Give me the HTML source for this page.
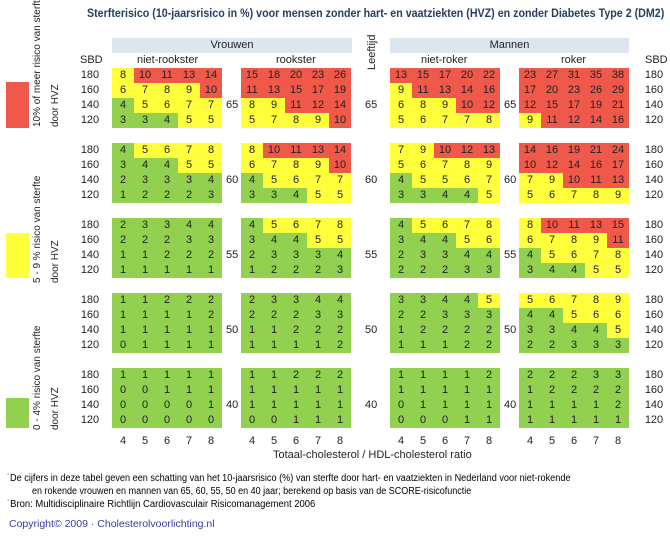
<!DOCTYPE html>
<html><head><meta charset="utf-8"><style>
body{margin:0;width:670px;height:537px;background:#fff;position:relative;overflow:hidden;font-family:"Liberation Sans",sans-serif;color:#222}
.a{position:absolute;white-space:nowrap}
table{position:absolute;border-collapse:collapse;border-spacing:0}
td{width:22px;height:15px;padding:0;text-align:center;font-size:11px;line-height:15px}
.g{background:#92d050}.y{background:#ffff3c}.r{background:#f0584a}
.lab td{width:30px}
.hd{position:absolute;background:#dce6f1;height:15px;font-size:11px;text-align:center;line-height:15px}
.rot{position:absolute;transform:rotate(-90deg);transform-origin:0 0;font-size:11px;white-space:nowrap}
.sc{transform-origin:0 0}
</style></head><body>
<div class="a sc" style="left:87px;top:6px;font-size:12px;font-weight:bold;color:#243f60;transform:scaleX(0.89)">Sterfterisico (10-jaarsrisico in %) voor mensen zonder hart- en vaatziekten (HVZ) en zonder Diabetes Type 2 (DM2)</div>
<div class="hd" style="left:112px;top:38px;width:240px">Vrouwen</div>
<div class="hd" style="left:390px;top:38px;width:239px">Mannen</div>
<div class="rot" style="left:366px;top:70px">Leeftijd</div>
<div class="a" style="left:80px;top:54px;font-size:11px">SBD</div>
<div class="a" style="left:645px;top:54px;font-size:11px">SBD</div>
<div class="a" style="left:137px;top:54px;font-size:11px">niet-rookster</div>
<div class="a" style="left:276px;top:54px;font-size:11px">rookster</div>
<div class="a" style="left:421px;top:54px;font-size:11px">niet-roker</div>
<div class="a" style="left:561px;top:54px;font-size:11px">roker</div>

<div class="a" style="left:6px;top:82px;width:23px;height:46px;background:#f0584a"></div>
<div class="a" style="left:6px;top:233px;width:23px;height:45px;background:#ffff3c"></div>
<div class="a" style="left:6px;top:398px;width:23px;height:30px;background:#92d050"></div>
<div class="rot" style="left:32px;top:127px;font-size:10px">10% of meer risico van sterfte</div>
<div class="rot" style="left:50px;top:127px;font-size:10px">door HVZ</div>
<div class="rot" style="left:32px;top:283px;font-size:10px">5 - 9 % risico van sterfte</div>
<div class="rot" style="left:50px;top:283px;font-size:10px">door HVZ</div>
<div class="rot" style="left:32px;top:430px;font-size:10px">0 - 4% risico van sterfte</div>
<div class="rot" style="left:50px;top:430px;font-size:10px">door HVZ</div>

<table class="lab" style="left:75px;top:68px"><tr><td>180</td></tr><tr><td>160</td></tr><tr><td>140</td></tr><tr><td>120</td></tr></table>
<table class="lab" style="left:75px;top:143px"><tr><td>180</td></tr><tr><td>160</td></tr><tr><td>140</td></tr><tr><td>120</td></tr></table>
<table class="lab" style="left:75px;top:218px"><tr><td>180</td></tr><tr><td>160</td></tr><tr><td>140</td></tr><tr><td>120</td></tr></table>
<table class="lab" style="left:75px;top:293px"><tr><td>180</td></tr><tr><td>160</td></tr><tr><td>140</td></tr><tr><td>120</td></tr></table>
<table class="lab" style="left:75px;top:368px"><tr><td>180</td></tr><tr><td>160</td></tr><tr><td>140</td></tr><tr><td>120</td></tr></table>
<table class="lab" style="left:639px;top:68px"><tr><td>180</td></tr><tr><td>160</td></tr><tr><td>140</td></tr><tr><td>120</td></tr></table>
<table class="lab" style="left:639px;top:143px"><tr><td>180</td></tr><tr><td>160</td></tr><tr><td>140</td></tr><tr><td>120</td></tr></table>
<table class="lab" style="left:639px;top:218px"><tr><td>180</td></tr><tr><td>160</td></tr><tr><td>140</td></tr><tr><td>120</td></tr></table>
<table class="lab" style="left:639px;top:293px"><tr><td>180</td></tr><tr><td>160</td></tr><tr><td>140</td></tr><tr><td>120</td></tr></table>
<table class="lab" style="left:639px;top:368px"><tr><td>180</td></tr><tr><td>160</td></tr><tr><td>140</td></tr><tr><td>120</td></tr></table>

<div class="a" style="left:226px;top:99px;font-size:11px">65</div>
<div class="a" style="left:365px;top:99px;font-size:11px">65</div>
<div class="a" style="left:504px;top:99px;font-size:11px">65</div>
<div class="a" style="left:226px;top:174px;font-size:11px">60</div>
<div class="a" style="left:365px;top:174px;font-size:11px">60</div>
<div class="a" style="left:504px;top:174px;font-size:11px">60</div>
<div class="a" style="left:226px;top:249px;font-size:11px">55</div>
<div class="a" style="left:365px;top:249px;font-size:11px">55</div>
<div class="a" style="left:504px;top:249px;font-size:11px">55</div>
<div class="a" style="left:226px;top:324px;font-size:11px">50</div>
<div class="a" style="left:365px;top:324px;font-size:11px">50</div>
<div class="a" style="left:504px;top:324px;font-size:11px">50</div>
<div class="a" style="left:226px;top:399px;font-size:11px">40</div>
<div class="a" style="left:365px;top:399px;font-size:11px">40</div>
<div class="a" style="left:504px;top:399px;font-size:11px">40</div>

<table style="left:112px;top:68px">
<tr><td class="y">8</td><td class="r">10</td><td class="r">11</td><td class="r">13</td><td class="r">14</td></tr>
<tr><td class="y">6</td><td class="y">7</td><td class="y">8</td><td class="y">9</td><td class="r">10</td></tr>
<tr><td class="g">4</td><td class="y">5</td><td class="y">6</td><td class="y">7</td><td class="y">7</td></tr>
<tr><td class="g">3</td><td class="g">3</td><td class="g">4</td><td class="y">5</td><td class="y">5</td></tr></table>
<table style="left:112px;top:143px">
<tr><td class="g">4</td><td class="y">5</td><td class="y">6</td><td class="y">7</td><td class="y">8</td></tr>
<tr><td class="g">3</td><td class="g">4</td><td class="g">4</td><td class="y">5</td><td class="y">5</td></tr>
<tr><td class="g">2</td><td class="g">3</td><td class="g">3</td><td class="g">3</td><td class="g">4</td></tr>
<tr><td class="g">1</td><td class="g">2</td><td class="g">2</td><td class="g">2</td><td class="g">3</td></tr></table>
<table style="left:112px;top:218px">
<tr><td class="g">2</td><td class="g">3</td><td class="g">3</td><td class="g">4</td><td class="g">4</td></tr>
<tr><td class="g">2</td><td class="g">2</td><td class="g">2</td><td class="g">3</td><td class="g">3</td></tr>
<tr><td class="g">1</td><td class="g">1</td><td class="g">2</td><td class="g">2</td><td class="g">2</td></tr>
<tr><td class="g">1</td><td class="g">1</td><td class="g">1</td><td class="g">1</td><td class="g">1</td></tr></table>
<table style="left:112px;top:293px">
<tr><td class="g">1</td><td class="g">1</td><td class="g">2</td><td class="g">2</td><td class="g">2</td></tr>
<tr><td class="g">1</td><td class="g">1</td><td class="g">1</td><td class="g">1</td><td class="g">2</td></tr>
<tr><td class="g">1</td><td class="g">1</td><td class="g">1</td><td class="g">1</td><td class="g">1</td></tr>
<tr><td class="g">0</td><td class="g">1</td><td class="g">1</td><td class="g">1</td><td class="g">1</td></tr></table>
<table style="left:112px;top:368px">
<tr><td class="g">1</td><td class="g">1</td><td class="g">1</td><td class="g">1</td><td class="g">1</td></tr>
<tr><td class="g">0</td><td class="g">0</td><td class="g">1</td><td class="g">1</td><td class="g">1</td></tr>
<tr><td class="g">0</td><td class="g">0</td><td class="g">0</td><td class="g">0</td><td class="g">1</td></tr>
<tr><td class="g">0</td><td class="g">0</td><td class="g">0</td><td class="g">0</td><td class="g">0</td></tr></table>

<table style="left:241px;top:68px">
<tr><td class="r">15</td><td class="r">18</td><td class="r">20</td><td class="r">23</td><td class="r">26</td></tr>
<tr><td class="r">11</td><td class="r">13</td><td class="r">15</td><td class="r">17</td><td class="r">19</td></tr>
<tr><td class="y">8</td><td class="y">9</td><td class="r">11</td><td class="r">12</td><td class="r">14</td></tr>
<tr><td class="y">5</td><td class="y">7</td><td class="y">8</td><td class="y">9</td><td class="r">10</td></tr></table>
<table style="left:241px;top:143px">
<tr><td class="y">8</td><td class="r">10</td><td class="r">11</td><td class="r">13</td><td class="r">14</td></tr>
<tr><td class="y">6</td><td class="y">7</td><td class="y">8</td><td class="y">9</td><td class="r">10</td></tr>
<tr><td class="g">4</td><td class="y">5</td><td class="y">6</td><td class="y">7</td><td class="y">7</td></tr>
<tr><td class="g">3</td><td class="g">3</td><td class="g">4</td><td class="y">5</td><td class="y">5</td></tr></table>
<table style="left:241px;top:218px">
<tr><td class="g">4</td><td class="y">5</td><td class="y">6</td><td class="y">7</td><td class="y">8</td></tr>
<tr><td class="g">3</td><td class="g">4</td><td class="g">4</td><td class="y">5</td><td class="y">5</td></tr>
<tr><td class="g">2</td><td class="g">3</td><td class="g">3</td><td class="g">3</td><td class="g">4</td></tr>
<tr><td class="g">1</td><td class="g">2</td><td class="g">2</td><td class="g">2</td><td class="g">3</td></tr></table>
<table style="left:241px;top:293px">
<tr><td class="g">2</td><td class="g">3</td><td class="g">3</td><td class="g">4</td><td class="g">4</td></tr>
<tr><td class="g">2</td><td class="g">2</td><td class="g">2</td><td class="g">3</td><td class="g">3</td></tr>
<tr><td class="g">1</td><td class="g">1</td><td class="g">2</td><td class="g">2</td><td class="g">2</td></tr>
<tr><td class="g">1</td><td class="g">1</td><td class="g">1</td><td class="g">1</td><td class="g">2</td></tr></table>
<table style="left:241px;top:368px">
<tr><td class="g">1</td><td class="g">1</td><td class="g">2</td><td class="g">2</td><td class="g">2</td></tr>
<tr><td class="g">1</td><td class="g">1</td><td class="g">1</td><td class="g">1</td><td class="g">1</td></tr>
<tr><td class="g">1</td><td class="g">1</td><td class="g">1</td><td class="g">1</td><td class="g">1</td></tr>
<tr><td class="g">0</td><td class="g">0</td><td class="g">1</td><td class="g">1</td><td class="g">1</td></tr></table>

<table style="left:390px;top:68px">
<tr><td class="r">13</td><td class="r">15</td><td class="r">17</td><td class="r">20</td><td class="r">22</td></tr>
<tr><td class="y">9</td><td class="r">11</td><td class="r">13</td><td class="r">14</td><td class="r">16</td></tr>
<tr><td class="y">6</td><td class="y">8</td><td class="y">9</td><td class="r">10</td><td class="r">12</td></tr>
<tr><td class="y">5</td><td class="y">6</td><td class="y">7</td><td class="y">7</td><td class="y">8</td></tr></table>
<table style="left:390px;top:143px">
<tr><td class="y">7</td><td class="y">9</td><td class="r">10</td><td class="r">12</td><td class="r">13</td></tr>
<tr><td class="y">5</td><td class="y">6</td><td class="y">7</td><td class="y">8</td><td class="y">9</td></tr>
<tr><td class="g">4</td><td class="y">5</td><td class="y">5</td><td class="y">6</td><td class="y">7</td></tr>
<tr><td class="g">3</td><td class="g">3</td><td class="g">4</td><td class="g">4</td><td class="y">5</td></tr></table>
<table style="left:390px;top:218px">
<tr><td class="g">4</td><td class="y">5</td><td class="y">6</td><td class="y">7</td><td class="y">8</td></tr>
<tr><td class="g">3</td><td class="g">4</td><td class="g">4</td><td class="y">5</td><td class="y">6</td></tr>
<tr><td class="g">2</td><td class="g">3</td><td class="g">3</td><td class="g">4</td><td class="g">4</td></tr>
<tr><td class="g">2</td><td class="g">2</td><td class="g">2</td><td class="g">3</td><td class="g">3</td></tr></table>
<table style="left:390px;top:293px">
<tr><td class="g">3</td><td class="g">3</td><td class="g">4</td><td class="g">4</td><td class="y">5</td></tr>
<tr><td class="g">2</td><td class="g">2</td><td class="g">3</td><td class="g">3</td><td class="g">3</td></tr>
<tr><td class="g">1</td><td class="g">2</td><td class="g">2</td><td class="g">2</td><td class="g">2</td></tr>
<tr><td class="g">1</td><td class="g">1</td><td class="g">1</td><td class="g">2</td><td class="g">2</td></tr></table>
<table style="left:390px;top:368px">
<tr><td class="g">1</td><td class="g">1</td><td class="g">1</td><td class="g">1</td><td class="g">2</td></tr>
<tr><td class="g">1</td><td class="g">1</td><td class="g">1</td><td class="g">1</td><td class="g">1</td></tr>
<tr><td class="g">0</td><td class="g">1</td><td class="g">1</td><td class="g">1</td><td class="g">1</td></tr>
<tr><td class="g">0</td><td class="g">0</td><td class="g">0</td><td class="g">1</td><td class="g">1</td></tr></table>

<table style="left:519px;top:68px">
<tr><td class="r">23</td><td class="r">27</td><td class="r">31</td><td class="r">35</td><td class="r">38</td></tr>
<tr><td class="r">17</td><td class="r">20</td><td class="r">23</td><td class="r">26</td><td class="r">29</td></tr>
<tr><td class="r">12</td><td class="r">15</td><td class="r">17</td><td class="r">19</td><td class="r">21</td></tr>
<tr><td class="y">9</td><td class="r">11</td><td class="r">12</td><td class="r">14</td><td class="r">16</td></tr></table>
<table style="left:519px;top:143px">
<tr><td class="r">14</td><td class="r">16</td><td class="r">19</td><td class="r">21</td><td class="r">24</td></tr>
<tr><td class="r">10</td><td class="r">12</td><td class="r">14</td><td class="r">16</td><td class="r">17</td></tr>
<tr><td class="y">7</td><td class="y">9</td><td class="r">10</td><td class="r">11</td><td class="r">13</td></tr>
<tr><td class="y">5</td><td class="y">6</td><td class="y">7</td><td class="y">8</td><td class="y">9</td></tr></table>
<table style="left:519px;top:218px">
<tr><td class="y">8</td><td class="r">10</td><td class="r">11</td><td class="r">13</td><td class="r">15</td></tr>
<tr><td class="y">6</td><td class="y">7</td><td class="y">8</td><td class="y">9</td><td class="r">11</td></tr>
<tr><td class="g">4</td><td class="y">5</td><td class="y">6</td><td class="y">7</td><td class="y">8</td></tr>
<tr><td class="g">3</td><td class="g">4</td><td class="g">4</td><td class="y">5</td><td class="y">5</td></tr></table>
<table style="left:519px;top:293px">
<tr><td class="y">5</td><td class="y">6</td><td class="y">7</td><td class="y">8</td><td class="y">9</td></tr>
<tr><td class="g">4</td><td class="g">4</td><td class="y">5</td><td class="y">6</td><td class="y">6</td></tr>
<tr><td class="g">3</td><td class="g">3</td><td class="g">4</td><td class="g">4</td><td class="y">5</td></tr>
<tr><td class="g">2</td><td class="g">2</td><td class="g">3</td><td class="g">3</td><td class="g">3</td></tr></table>
<table style="left:519px;top:368px">
<tr><td class="g">2</td><td class="g">2</td><td class="g">2</td><td class="g">3</td><td class="g">3</td></tr>
<tr><td class="g">1</td><td class="g">2</td><td class="g">2</td><td class="g">2</td><td class="g">2</td></tr>
<tr><td class="g">1</td><td class="g">1</td><td class="g">1</td><td class="g">1</td><td class="g">2</td></tr>
<tr><td class="g">1</td><td class="g">1</td><td class="g">1</td><td class="g">1</td><td class="g">1</td></tr></table>

<table style="left:112px;top:434px"><tr><td>4</td><td>5</td><td>6</td><td>7</td><td>8</td></tr></table>
<table style="left:241px;top:434px"><tr><td>4</td><td>5</td><td>6</td><td>7</td><td>8</td></tr></table>
<table style="left:390px;top:434px"><tr><td>4</td><td>5</td><td>6</td><td>7</td><td>8</td></tr></table>
<table style="left:519px;top:434px"><tr><td>4</td><td>5</td><td>6</td><td>7</td><td>8</td></tr></table>
<div class="a" style="left:273px;top:449px;font-size:11px">Totaal-cholesterol / HDL-cholesterol ratio</div>

<div class="a sc" style="left:7px;top:473px;font-size:10px;color:#000;transform:scaleX(0.915)">&#729;De cijfers in deze tabel geven een schatting van het 10-jaarsrisico (%) van sterfte door hart- en vaatziekten in Nederland voor niet-rokende</div>
<div class="a sc" style="left:32px;top:486px;font-size:10px;color:#000;transform:scaleX(0.9)">en rokende vrouwen en mannen van 65, 60, 55, 50 en 40 jaar; berekend op basis van de SCORE-risicofunctie</div>
<div class="a sc" style="left:7px;top:499px;font-size:10px;color:#000;transform:scaleX(0.945)">&#729;Bron: Multidisciplinaire Richtlijn Cardiovasculair Risicomanagement 2006</div>
<div class="a" style="left:9px;top:518px;font-size:10.5px;color:#3a3aa8">Copyright© 2009 · Cholesterolvoorlichting.nl</div>
</body></html>
